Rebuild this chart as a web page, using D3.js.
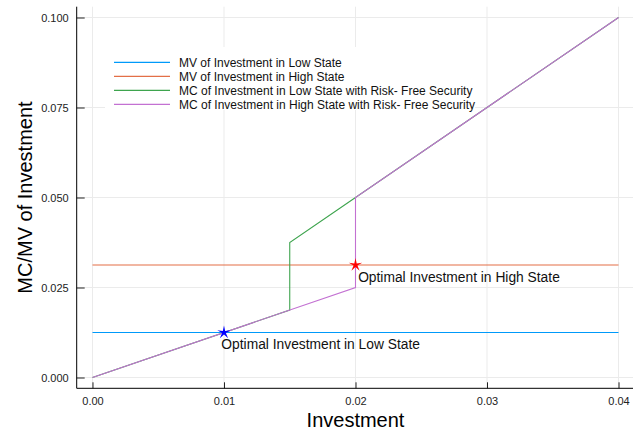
<!DOCTYPE html>
<html>
<head>
<meta charset="utf-8">
<script src="https://cdn.jsdelivr.net/npm/d3@7"></script>
<style>
  html, body { margin: 0; padding: 0; background: #fff; }
  svg { display: block; font-family: "Liberation Sans", Arial, Helvetica, sans-serif; }
</style>
</head>
<body>
<svg id="chart" width="633" height="432"></svg>
<script>
// Investment levels and marginal value / marginal cost curves
const mvLowX  = [0, 0.04];
const mvLowY  = [0.0125, 0.0125];
const mvHighX = [0, 0.04];
const mvHighY = [0.03125, 0.03125];
const mcLowX  = [0, 0.015, 0.015, 0.02, 0.04];
const mcLowY  = [0, 0.01875, 0.0375, 0.05, 0.1];
const mcHighX = [0, 0.02, 0.02, 0.04];
const mcHighY = [0, 0.025, 0.05, 0.1];

const seriesNames = [
  "MV of Investment in Low State",
  "MV of Investment in High State",
  "MC of Investment in Low State with Risk- Free Security",
  "MC of Investment in High State with Risk- Free Security"
];

// Optimal points and their labels
const optimalX = [0.01, 0.02];
const optimalY = [0.0125, 0.03125];
const optimalLabels = ["Optimal Investment in Low State", "Optimal Investment in High State"];
const labelX = [0.0098, 0.0202];
const labelY = [0.0093, 0.028];

const xTicks = [0, 0.01, 0.02, 0.03, 0.04];
const yTicks = [0, 0.025, 0.05, 0.075, 0.1];
const xTickLabels = ["0.00", "0.01", "0.02", "0.03", "0.04"];
const yTickLabels = ["0.000", "0.025", "0.050", "0.075", "0.100"];

const colors = ["#009AFA", "#E36F47", "#3EA44E", "#C371D2"];
const markerColors = ["#0000FF", "#FF0000"];

const svg = d3.select("#chart");

const x = d3.scaleLinear().domain([-0.0012, 0.0412]).range([76.7, 634.3]);
const y = d3.scaleLinear().domain([-0.003, 0.103]).range([388.3, 6.7]);

const plotLeft = x.range()[0], plotRight = 633, plotBottom = y.range()[0], plotTop = y.range()[1];

// grid
const grid = svg.append("g").attr("stroke", "#ebebeb").attr("stroke-width", 1);
grid.selectAll("line.gx").data(xTicks).join("line").attr("class", "gx")
  .attr("x1", d => x(d)).attr("x2", d => x(d))
  .attr("y1", plotTop).attr("y2", plotBottom);
grid.selectAll("line.gy").data(yTicks).join("line").attr("class", "gy")
  .attr("x1", plotLeft).attr("x2", plotRight)
  .attr("y1", d => y(d)).attr("y2", d => y(d));

// axes
const xAxis = d3.axisBottom(x).tickValues(xTicks)
  .tickFormat((d, i) => xTickLabels[i]).tickSizeInner(-6).tickSizeOuter(0).tickPadding(9);
const yAxis = d3.axisLeft(y).tickValues(yTicks)
  .tickFormat((d, i) => yTickLabels[i]).tickSizeInner(-8).tickSizeOuter(0).tickPadding(8);

const gx = svg.append("g").attr("transform", `translate(0,${plotBottom})`).call(xAxis);
const gy = svg.append("g").attr("transform", `translate(${plotLeft},0)`).call(yAxis);
[gx, gy].forEach(g => {
  g.select(".domain").remove();
  g.selectAll(".tick line").attr("stroke", "#222").attr("stroke-width", 1);
  g.selectAll(".tick text").attr("fill", "#222").style("font-size", "11px")
    .style("font-family", '"Liberation Sans", Arial, sans-serif');
});
svg.append("line").attr("x1", plotLeft).attr("x2", plotRight).attr("y1", plotBottom).attr("y2", plotBottom)
  .attr("stroke", "#000").attr("stroke-width", 1);
svg.append("line").attr("x1", plotLeft).attr("x2", plotLeft).attr("y1", plotTop).attr("y2", plotBottom)
  .attr("stroke", "#000").attr("stroke-width", 1);

// axis titles
svg.append("text").attr("x", (x(0) + x(0.04)) / 2).attr("y", 427)
  .attr("text-anchor", "middle").style("font-size", "20px").attr("fill", "#000")
  .text("Investment");
svg.append("text")
  .attr("transform", `translate(32,${(plotTop + plotBottom) / 2}) rotate(-90)`)
  .attr("text-anchor", "middle").style("font-size", "20px").attr("fill", "#000")
  .text("MC/MV of Investment");

// curves
svg.append("clipPath").attr("id", "plotclip").append("rect")
  .attr("x", plotLeft).attr("y", plotTop)
  .attr("width", plotRight - plotLeft).attr("height", plotBottom - plotTop);
const line = d3.line().x(d => x(d[0])).y(d => y(d[1]));
const series = [
  d3.zip(mvLowX, mvLowY),
  d3.zip(mvHighX, mvHighY),
  d3.zip(mcLowX, mcLowY),
  d3.zip(mcHighX, mcHighY)
];
const plot = svg.append("g").attr("clip-path", "url(#plotclip)");
plot.selectAll("path.series").data(series).join("path")
  .attr("class", "series")
  .attr("d", line)
  .attr("fill", "none")
  .attr("stroke", (d, i) => colors[i])
  .attr("stroke-width", 1.1);

// star markers at the optimum
function starPath(R, r) {
  const pts = [];
  for (let k = 0; k < 10; k++) {
    const a = -Math.PI / 2 + k * Math.PI / 5;
    const rad = k % 2 === 0 ? R : r;
    pts.push([rad * Math.cos(a), rad * Math.sin(a)]);
  }
  return "M" + pts.map(p => p.join(",")).join("L") + "Z";
}
svg.selectAll("path.star").data(d3.zip(optimalX, optimalY)).join("path")
  .attr("class", "star")
  .attr("d", starPath(7, 2))
  .attr("transform", d => `translate(${x(d[0])},${y(d[1])})`)
  .attr("fill", (d, i) => markerColors[i]);

svg.selectAll("text.ann").data(optimalLabels).join("text")
  .attr("class", "ann")
  .attr("x", (d, i) => x(labelX[i]))
  .attr("y", (d, i) => y(labelY[i]))
  .attr("dy", "0.35em")
  .style("font-size", "13.8px").attr("fill", "#111")
  .text(d => d);

// legend
const legend = svg.append("g");
legend.append("rect").attr("x", 105).attr("y", 47).attr("width", 370).attr("height", 63)
  .attr("fill", "#fff");
const rows = legend.selectAll("g.row").data(seriesNames).join("g")
  .attr("class", "row")
  .attr("transform", (d, i) => `translate(0,${62.3 + i * 14})`);
rows.append("line").attr("x1", 114).attr("x2", 170)
  .attr("stroke", (d, i) => colors[i]).attr("stroke-width", 1.2);
rows.append("text").attr("x", 179).attr("dy", "0.35em")
  .style("font-size", "12px").attr("fill", "#111").text(d => d);
</script>
</body>
</html>
